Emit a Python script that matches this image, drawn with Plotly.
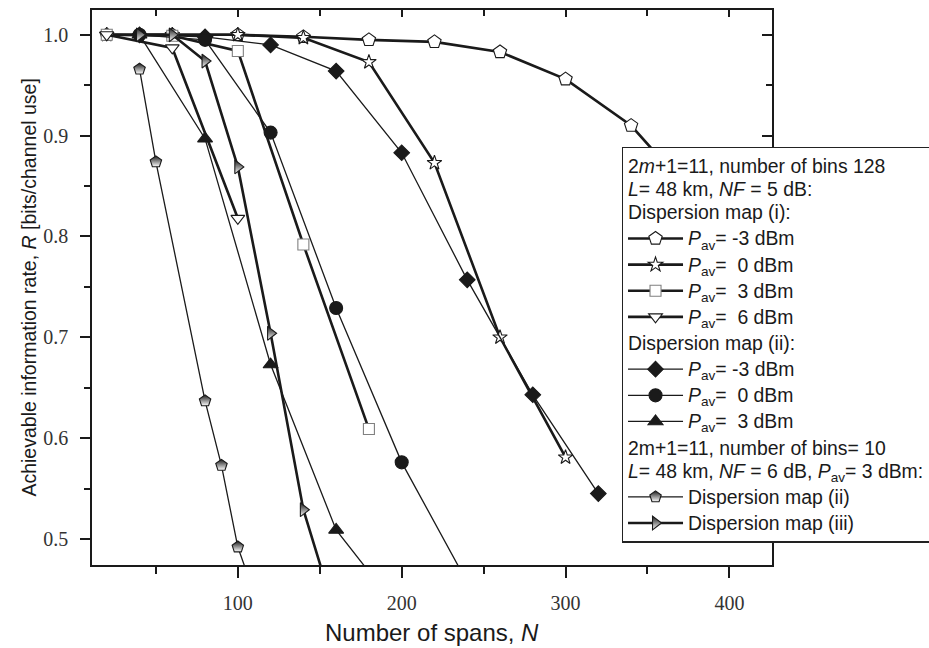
import plotly.graph_objects as go

# ---------------- data ----------------
# Dispersion map (i), 128 bins, NF = 5 dB
n_i_m3 = [20, 60, 100, 140, 180, 220, 260, 300, 340, 380]
r_i_m3 = [1.0, 1.0, 1.0, 0.998, 0.995, 0.993, 0.983, 0.956, 0.910, 0.837]
n_i_0 = [20, 60, 100, 140, 180, 220, 260, 300]
r_i_0 = [1.0, 1.0, 1.0, 0.997, 0.973, 0.873, 0.700, 0.581]
n_i_3 = [20, 60, 100, 140, 180]
r_i_3 = [1.0, 0.999, 0.984, 0.792, 0.609]
n_i_6 = [20, 60, 100]
r_i_6 = [1.0, 0.987, 0.818]
# Dispersion map (ii), 128 bins, NF = 5 dB
n_ii_m3 = [40, 80, 120, 160, 200, 240, 280, 320]
r_ii_m3 = [1.0, 0.998, 0.990, 0.964, 0.883, 0.757, 0.643, 0.545]
n_ii_0 = [40, 80, 120, 160, 200, 240]
r_ii_0 = [1.0, 0.995, 0.903, 0.729, 0.576, 0.457]
n_ii_3 = [40, 80, 120, 160, 200]
r_ii_3 = [1.0, 0.897, 0.673, 0.509, 0.426]
# 10 bins, NF = 6 dB, Pav = 3 dBm
n_b10_ii = [40, 50, 80, 90, 100, 110]
r_b10_ii = [0.966, 0.874, 0.637, 0.573, 0.492, 0.446]
n_b10_iii = [40, 60, 80, 100, 120, 140, 160]
r_b10_iii = [1.0, 1.0, 0.974, 0.869, 0.704, 0.529, 0.423]

x_ticks = [100, 200, 300, 400]
y_ticks = [0.5, 0.6, 0.7, 0.8, 0.9, 1.0]

X_RANGE = [11, 426]
Y_RANGE = [0.4742, 1.0246]

BLACK = "#1a1a1a"
THICK = 2.6
THIN = 1.3


def big(s):
    return '<span style="font-size:19.4px">' + s + '</span>'


G1 = big("2<i>m</i>+1=11, number of bins 128") + "<br>" + \
    big("<i>L</i>= 48 km, <i>NF</i> = 5 dB:") + "<br>" + big("Dispersion map (i):")
G2 = big("Dispersion map (ii):")
G3 = big("2m+1=11, number of bins= 10") + "<br>" + \
    big("<i>L</i>= 48 km, <i>NF</i> = 6 dB, <i>P</i><sub>av</sub>= 3 dBm:")

LEG_FONT = dict(family="Liberation Sans", size=17.8, color=BLACK)

fig = go.Figure()


def add(n, r, name, width, symbol, size, fill, line_col=BLACK, grad=None, group="g1", gtitle=None):
    marker = dict(symbol=symbol, size=size, color=fill,
                  line=dict(color=line_col, width=1.1))
    if grad:
        marker["gradient"] = dict(type="vertical", color=grad)
    kw = {}
    if gtitle:
        kw["legendgrouptitle"] = dict(text=gtitle, font=LEG_FONT)
    fig.add_trace(go.Scatter(
        x=n, y=r, mode="lines+markers", name=big(name),
        line=dict(color=BLACK, width=width),
        marker=marker, cliponaxis=True, legendgroup=group, **kw))


pav = "<i>P</i><sub>av</sub>"
add(n_i_m3, r_i_m3, pav + "= -3 dBm", THICK, "pentagon", 14, "white", group="g1", gtitle=G1)
add(n_i_0, r_i_0, pav + "=  0 dBm", THICK, "star", 11, "white", group="g1")
add(n_i_3, r_i_3, pav + "=  3 dBm", THICK, "square", 11, "white", line_col="#808080", group="g1")
add(n_i_6, r_i_6, pav + "=  6 dBm", THICK, "triangle-down", 12, "white", group="g1")
add(n_ii_m3, r_ii_m3, pav + "= -3 dBm", THIN, "diamond", 12, BLACK, group="g2", gtitle=G2)
add(n_ii_0, r_ii_0, pav + "=  0 dBm", THIN, "circle", 13, BLACK, group="g2")
add(n_ii_3, r_ii_3, pav + "=  3 dBm", THIN, "triangle-up", 13, BLACK, group="g2")
add(n_b10_ii, r_b10_ii, "Dispersion map (ii)", THIN, "pentagon", 12, BLACK, grad="white",
    group="g3", gtitle=G3)
add(n_b10_iii, r_b10_iii, "Dispersion map (iii)", THICK, "triangle-right", 12, BLACK,
    grad="white", group="g3")

# invisible trace for mirrored (inside) ticks on top/right
fig.add_trace(go.Scatter(x=[None], y=[None], xaxis="x2", yaxis="y2",
                         showlegend=False, hoverinfo="skip"))

tick_font = dict(family="Liberation Serif", size=20, color="#333333")

fig.update_layout(
    width=929, height=648,
    margin=dict(l=92, r=157, t=10, b=83, autoexpand=False),
    paper_bgcolor="white", plot_bgcolor="white",
    showlegend=True,
    legend=dict(x=0.779, y=0.7537, xanchor="left", yanchor="top",
                bgcolor="white", bordercolor="#222222", borderwidth=1.3,
                font=LEG_FONT, tracegroupgap=0, traceorder="grouped",
                itemwidth=55),
    xaxis=dict(range=X_RANGE, tickvals=x_ticks, ticks="outside", ticklen=11,
               tickwidth=1.5, tickcolor=BLACK, showline=True, linecolor=BLACK,
               linewidth=1.5, mirror=True, showgrid=False, zeroline=False,
               tickfont=tick_font, ticklabelstandoff=8,
               minor=dict(tickvals=[50, 150, 250, 350], ticks="outside",
                          ticklen=7, tickwidth=1.5, tickcolor=BLACK)),
    yaxis=dict(range=Y_RANGE, tickvals=y_ticks, tickformat=".1f", ticks="outside",
               ticklen=10, tickwidth=1.5, tickcolor=BLACK, showline=True,
               linecolor=BLACK, linewidth=1.5, mirror=True, showgrid=False,
               zeroline=False, tickfont=tick_font, ticklabelstandoff=8,
               minor=dict(tickvals=[0.55, 0.65, 0.75, 0.85, 0.95], ticks="outside",
                          ticklen=6, tickwidth=1.5, tickcolor=BLACK)),
    xaxis2=dict(range=X_RANGE, overlaying="x", side="top", anchor="y",
                tickvals=x_ticks, ticks="inside", ticklen=7, tickwidth=1.5,
                tickcolor=BLACK, showticklabels=False, showgrid=False,
                zeroline=False, showline=False,
                minor=dict(tickvals=[50, 150, 250, 350], ticks="inside",
                           ticklen=6, tickwidth=1.5, tickcolor=BLACK)),
    yaxis2=dict(range=Y_RANGE, overlaying="y", side="right", anchor="x",
                tickvals=y_ticks, ticks="inside", ticklen=10, tickwidth=1.5,
                tickcolor=BLACK, showticklabels=False, showgrid=False,
                zeroline=False, showline=False,
                minor=dict(tickvals=[0.55, 0.65, 0.75, 0.85, 0.95], ticks="inside",
                           ticklen=6, tickwidth=1.5, tickcolor=BLACK)),
    annotations=[
        dict(text="Number of spans, <i>N</i>", xref="paper", yref="paper",
             x=0.5, y=-0.1225, xanchor="center", yanchor="middle", showarrow=False,
             font=dict(family="Liberation Sans", size=24, color=BLACK)),
        dict(text="Achievable information rate, <i>R</i> [bits/channel use]",
             xref="paper", yref="paper", x=-0.094, y=0.5, xanchor="center",
             yanchor="middle", textangle=-90, showarrow=False,
             font=dict(family="Liberation Sans", size=19.5, color=BLACK)),
    ],
)

fig.write_html("out.html", config={"displayModeBar": False},
               post_script="document.body.style.margin='0';")
